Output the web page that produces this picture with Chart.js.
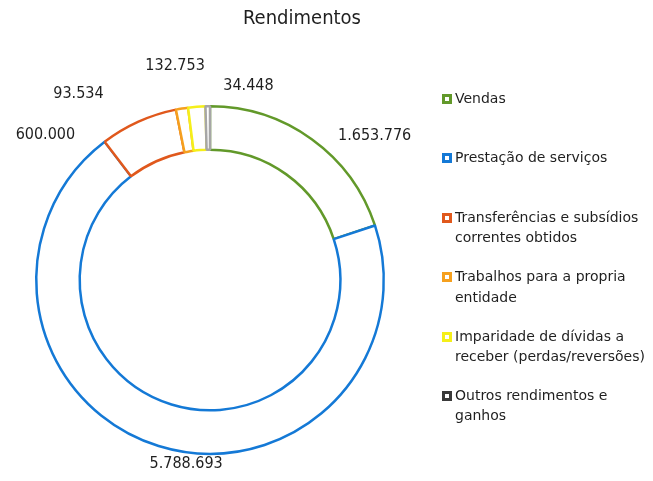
<!DOCTYPE html>
<html>
<head>
<meta charset="utf-8">
<script src="https://cdn.jsdelivr.net/npm/chart.js@4"></script>
<style>
  body { margin: 0; background: #fff; }
  #wrap { position: relative; width: 653px; height: 481px; font-family: "DejaVu Sans", sans-serif; color: #1f1f1f; }
  #title { position: absolute; left: 0; width: 604px; top: 5px; text-align: center; font-size: 20px; font-family: "DejaVu Sans Condensed", "DejaVu Sans", sans-serif; }
  #legend { position: absolute; left: 442px; top: 88px; }
  .item { position: relative; height: 59.4px; padding-left: 13px; font-size: 14px; line-height: 20.5px; }
  .box { position: absolute; left: 0; top: 6px; width: 4px; height: 4px; border: 3px solid; background: #fff; }
  canvas { position: absolute; left: 0; top: 0; }
</style>
</head>
<body>
<div id="wrap">
  <canvas id="rendimentos" width="653" height="481"></canvas>
  <div id="title">Rendimentos</div>
  <div id="legend"></div>
</div>
<script>
const labels = [
  ['Vendas'],
  ['Prestação de serviços'],
  ['Transferências e subsídios', 'correntes obtidos'],
  ['Trabalhos para a propria', 'entidade'],
  ['Imparidade de dívidas a', 'receber (perdas/reversões)'],
  ['Outros rendimentos e', 'ganhos']
];
const values = [1653776, 5788693, 600000, 93534, 132753, 34448];
const valueLabels = ['1.653.776', '5.788.693', '600.000', '93.534', '132.753', '34.448'];
const colors = ['#62992a', '#1479d6', '#e0581c', '#f5a01e', '#f5ef1a', '#a6a6a6'];
const legendColors = ['#62992a', '#1479d6', '#e0581c', '#f5a01e', '#f5ef1a', '#3a3a3a'];

// small shifts so the value labels sit where the original put them
const labelShift = [[50, 15], [34, -3], [-84, 33], [-100, 7], [-20, -19], [41, 2]];

const valueLabelPlugin = {
  id: 'valueLabels',
  afterDatasetsDraw(chart) {
    const ctx = chart.ctx;
    const arcs = chart.getDatasetMeta(0).data;
    ctx.save();
    ctx.font = '16px "DejaVu Sans Condensed"';
    ctx.fillStyle = '#1f1f1f';
    ctx.textAlign = 'center';
    ctx.textBaseline = 'middle';
    arcs.forEach((arc, i) => {
      const p = arc.getProps(['x', 'y', 'startAngle', 'endAngle', 'outerRadius'], true);
      const mid = (p.startAngle + p.endAngle) / 2;
      const r = p.outerRadius + 22;
      ctx.fillText(valueLabels[i],
        p.x + Math.cos(mid) * r + labelShift[i][0],
        p.y + Math.sin(mid) * r + labelShift[i][1]);
    });
    ctx.restore();
  }
};

// legend
const legend = document.getElementById('legend');
labels.forEach((lines, i) => {
  const item = document.createElement('div');
  item.className = 'item';
  item.innerHTML = '<span class="box" style="border-color:' + legendColors[i] + '"></span>' + lines.join('<br>');
  legend.appendChild(item);
});

const ctx = document.getElementById('rendimentos').getContext('2d');
const chart = new Chart(ctx, {
  type: 'doughnut',
  data: {
    labels: labels,
    datasets: [{
      data: values,
      backgroundColor: '#ffffff',
      borderColor: colors,
      borderWidth: 2.5
    }]
  },
  options: {
    responsive: false,
    animation: false,
    cutout: '75%',
    layout: {
      padding: { left: 35, top: 105, right: 268, bottom: 26 }
    },
    plugins: {
      legend: { display: false },
      tooltip: { enabled: false }
    }
  },
  plugins: [valueLabelPlugin]
});
</script>
</body>
</html>
